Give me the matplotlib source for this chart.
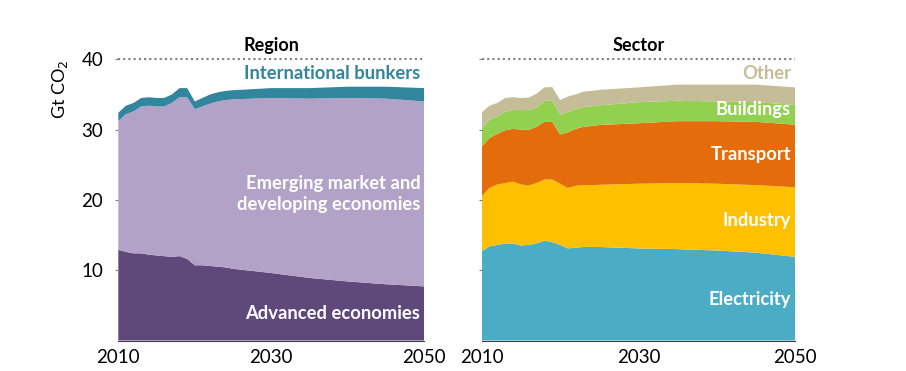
import matplotlib
matplotlib.use('Agg')
import matplotlib.pyplot as plt

plt.rcParams['font.family'] = ['Lato', 'DejaVu Sans']

years = [2010, 2011, 2012, 2013, 2014, 2015, 2016, 2017, 2018, 2019, 2020,
         2021, 2022, 2023, 2024, 2025, 2030, 2035, 2040, 2045, 2050]

# Region (Gt CO2)
advanced = [12.9, 12.6, 12.4, 12.4, 12.2, 12.1, 12.0, 11.9, 12.0, 11.6, 10.7,
            10.7, 10.6, 10.5, 10.4, 10.2, 9.6, 8.9, 8.4, 8.0, 7.7]
emde = [18.3, 19.6, 20.2, 20.9, 21.2, 21.2, 21.3, 21.9, 22.6, 23.0, 22.2,
        22.6, 23.1, 23.5, 23.8, 24.1, 24.9, 25.5, 26.1, 26.4, 26.3]
bunkers = [1.2, 1.2, 1.2, 1.2, 1.2, 1.2, 1.2, 1.2, 1.3, 1.3, 1.1,
           1.2, 1.3, 1.3, 1.3, 1.3, 1.4, 1.5, 1.6, 1.7, 1.9]

# Sector (Gt CO2)
electricity = [12.7, 13.4, 13.6, 13.8, 13.8, 13.5, 13.6, 13.8, 14.2, 14.0, 13.6,
               13.1, 13.2, 13.3, 13.3, 13.3, 13.1, 13.0, 12.8, 12.5, 11.9]
industry = [7.8, 8.3, 8.6, 8.6, 8.8, 8.7, 8.45, 8.6, 8.7, 8.9, 8.7,
            8.6, 8.8, 8.8, 8.8, 8.85, 9.2, 9.4, 9.5, 9.6, 9.9]
transport = [7.1, 7.1, 7.2, 7.5, 7.5, 7.8, 7.9, 8.0, 8.2, 8.2, 7.0,
             7.9, 8.1, 8.3, 8.4, 8.5, 8.6, 8.8, 8.9, 9.0, 8.9]
buildings = [2.5, 2.6, 2.5, 2.6, 2.7, 2.8, 2.8, 2.7, 3.0, 3.0, 2.8,
             2.9, 2.8, 2.8, 2.8, 2.8, 3.0, 2.9, 2.8, 2.8, 2.8]
other = [2.35, 2.0, 1.9, 2.0, 1.8, 1.7, 1.8, 2.0, 1.9, 1.95, 2.1,
         2.2, 2.1, 2.2, 2.2, 2.2, 2.1, 2.3, 2.4, 2.5, 2.5]

region_labels = ['Advanced economies', 'Emerging market and\ndeveloping economies',
                 'International bunkers']
sector_labels = ['Electricity', 'Industry', 'Transport', 'Buildings', 'Other']

region_colors = ['#5f497a', '#b3a2c7', '#31859c']
sector_colors = ['#4bacc6', '#ffc000', '#e46c0a', '#92d050', '#c4bd97']

fig = plt.figure(figsize=(9.06, 3.71), dpi=100)
ax1 = fig.add_axes([0.1306, 0.0822, 0.3377, 0.758])
ax2 = fig.add_axes([0.5317, 0.0822, 0.3458, 0.758])

ax1.stackplot(years, advanced, emde, bunkers, colors=region_colors, linewidth=0)
ax2.stackplot(years, electricity, industry, transport, buildings, other,
              colors=sector_colors, linewidth=0)

for ax, title in [(ax1, 'Region'), (ax2, 'Sector')]:
    ax.set_xlim(2010, 2050)
    ax.set_ylim(0, 40)
    ax.axhline(40, color='#7f7f7f', linestyle=(0, (1, 1.5)), linewidth=1.5, clip_on=False)
    ax.set_title(title, fontsize=13, fontweight='bold', pad=6)
    for s in ['top', 'right', 'left']:
        ax.spines[s].set_visible(False)
    ax.spines['bottom'].set_color('#404040')
    ax.spines['bottom'].set_linewidth(0.8)
    ax.set_xticks([2010, 2030, 2050])
    ax.set_yticks([10, 20, 30, 40])
    ax.tick_params(axis='x', length=0, labelsize=13.5, pad=6)
    ax.tick_params(axis='y', length=2, color='#7f7f7f', labelsize=13.5, pad=9)

ax2.tick_params(axis='y', labelleft=False)
ax1.set_ylabel('Gt CO$_2$', fontsize=13, loc='top', labelpad=8)

# Region labels
ax1.text(2049.5, 38.0, region_labels[2], color='#31859c', fontsize=13.2,
         fontweight='bold', ha='right', va='center')
ax1.text(2049.5, 20.8, region_labels[1], color='white', fontsize=13.2,
         fontweight='bold', ha='right', va='center', linespacing=1.3)
ax1.text(2049.5, 3.9, region_labels[0], color='white', fontsize=13.2,
         fontweight='bold', ha='right', va='center')

# Sector labels
sector_y = [5.9, 17.0, 26.4, 32.9, 38.0]
for lab, yv, col in zip(sector_labels, sector_y,
                        ['white', 'white', 'white', 'white', '#c4bd97']):
    ax2.text(2049.5, yv, lab, color=col, fontsize=13.2, fontweight='bold',
             ha='right', va='center')

fig.savefig('out.png', dpi=100)
